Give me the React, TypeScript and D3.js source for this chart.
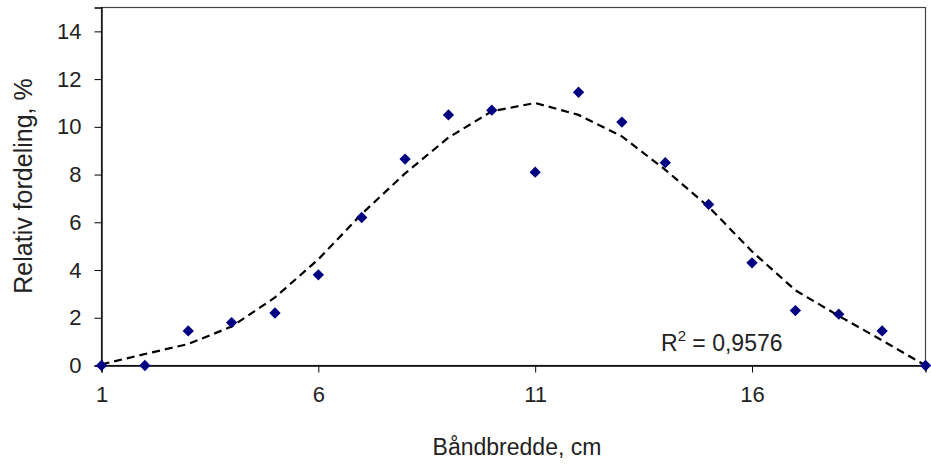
import React, { useRef, useEffect } from "react";
import * as d3 from "d3";

// Båndbredde (cm) and relative distribution (%)
const widths = [1, 2, 3, 4, 5, 6, 7, 8, 9, 10, 11, 12, 13, 14, 15, 16, 17, 18, 19, 20];
const shares = [0, 0, 1.45, 1.8, 2.2, 3.8, 6.2, 8.65, 10.5, 10.7, 8.1, 11.45, 10.2, 8.5, 6.75, 4.3, 2.3, 2.15, 1.45, 0];
// trendline
const trend = [0.05, 0.48, 0.9, 1.63, 2.85, 4.45, 6.35, 8.05, 9.55, 10.65, 11.0, 10.5, 9.6, 8.2, 6.65, 4.78, 3.15, 2.08, 1.05, 0];
const xTicks = [1, 6, 11, 16];
const yTicks = [0, 2, 4, 6, 8, 10, 12, 14];
const rSquared = "0,9576";

const W = 931;
const H = 465;
const FONT = "'Liberation Sans', Arial, sans-serif";

const App = () => {
  const svgRef = useRef<SVGSVGElement>(null);

  useEffect(() => {
    const svg = d3.select(svgRef.current);
    svg.selectAll("*").remove();

    const x = d3.scaleLinear().domain([1, 20]).range([101.5, 925.5]);
    const y = d3.scaleLinear().domain([0, 15]).range([365.5, 7.5]);

    // plot frame (top / right)
    svg
      .append("rect")
      .attr("x", x(1))
      .attr("y", y(15))
      .attr("width", x(20) - x(1))
      .attr("height", y(0) - y(15))
      .attr("fill", "none")
      .attr("stroke", "#444")
      .attr("stroke-width", 1.2);

    // y axis
    const yAxis = svg
      .append("g")
      .attr("transform", `translate(${x(1)},0)`)
      .call(d3.axisLeft(y).tickValues(yTicks).tickSize(7).tickPadding(13));
    yAxis.select(".domain").attr("stroke", "#000").attr("stroke-width", 1.3);
    yAxis.selectAll(".tick line").attr("stroke", "#000");
    yAxis
      .selectAll(".tick text")
      .attr("font-family", FONT)
      .attr("font-size", 22)
      .attr("fill", "#222");

    // x axis
    const xAxis = svg
      .append("g")
      .attr("transform", `translate(0,${y(0)})`)
      .call(d3.axisBottom(x).tickValues(xTicks).tickSize(7).tickPadding(14));
    xAxis.select(".domain").attr("stroke", "#000").attr("stroke-width", 1.3);
    xAxis.selectAll(".tick line").attr("stroke", "#000");
    xAxis
      .selectAll(".tick text")
      .attr("font-family", FONT)
      .attr("font-size", 22)
      .attr("fill", "#222");

    // axis titles
    svg
      .append("text")
      .attr("x", 517)
      .attr("y", 455)
      .attr("text-anchor", "middle")
      .attr("font-family", FONT)
      .attr("font-size", 23)
      .attr("fill", "#222")
      .text("Båndbredde, cm");

    svg
      .append("text")
      .attr("transform", "rotate(-90)")
      .attr("x", -186)
      .attr("y", 32)
      .attr("text-anchor", "middle")
      .attr("font-family", FONT)
      .attr("font-size", 25)
      .attr("fill", "#222")
      .text("Relativ fordeling, %");

    // trendline
    const line = d3
      .line<number>()
      .x((d, i) => x(widths[i]))
      .y((d) => y(d));
    svg
      .append("path")
      .datum(trend)
      .attr("d", line)
      .attr("fill", "none")
      .attr("stroke", "#000")
      .attr("stroke-width", 2.2)
      .attr("stroke-dasharray", "8,5");

    // points (square rotated 45° = diamond)
    const marker = d3.symbol().type(d3.symbolSquare).size(64);
    svg
      .selectAll("path.pt")
      .data(shares)
      .enter()
      .append("path")
      .attr("class", "pt")
      .attr("d", marker)
      .attr("transform", (d, i) => `translate(${x(widths[i])},${y(d)}) rotate(45)`)
      .attr("fill", "#000080");

    // R² label
    const r = svg
      .append("text")
      .attr("x", 661)
      .attr("y", 351)
      .attr("font-family", FONT)
      .attr("font-size", 23)
      .attr("fill", "#222");
    r.append("tspan").text("R");
    r.append("tspan").attr("font-size", 15).attr("dy", -10).text("2");
    r.append("tspan").attr("dy", 10).text(` = ${rSquared}`);
  }, []);

  return (
    <svg
      ref={svgRef}
      width={W}
      height={H}
      style={{ position: "absolute", left: 0, top: 0, background: "#fff" }}
    ></svg>
  );
};

export default App;
